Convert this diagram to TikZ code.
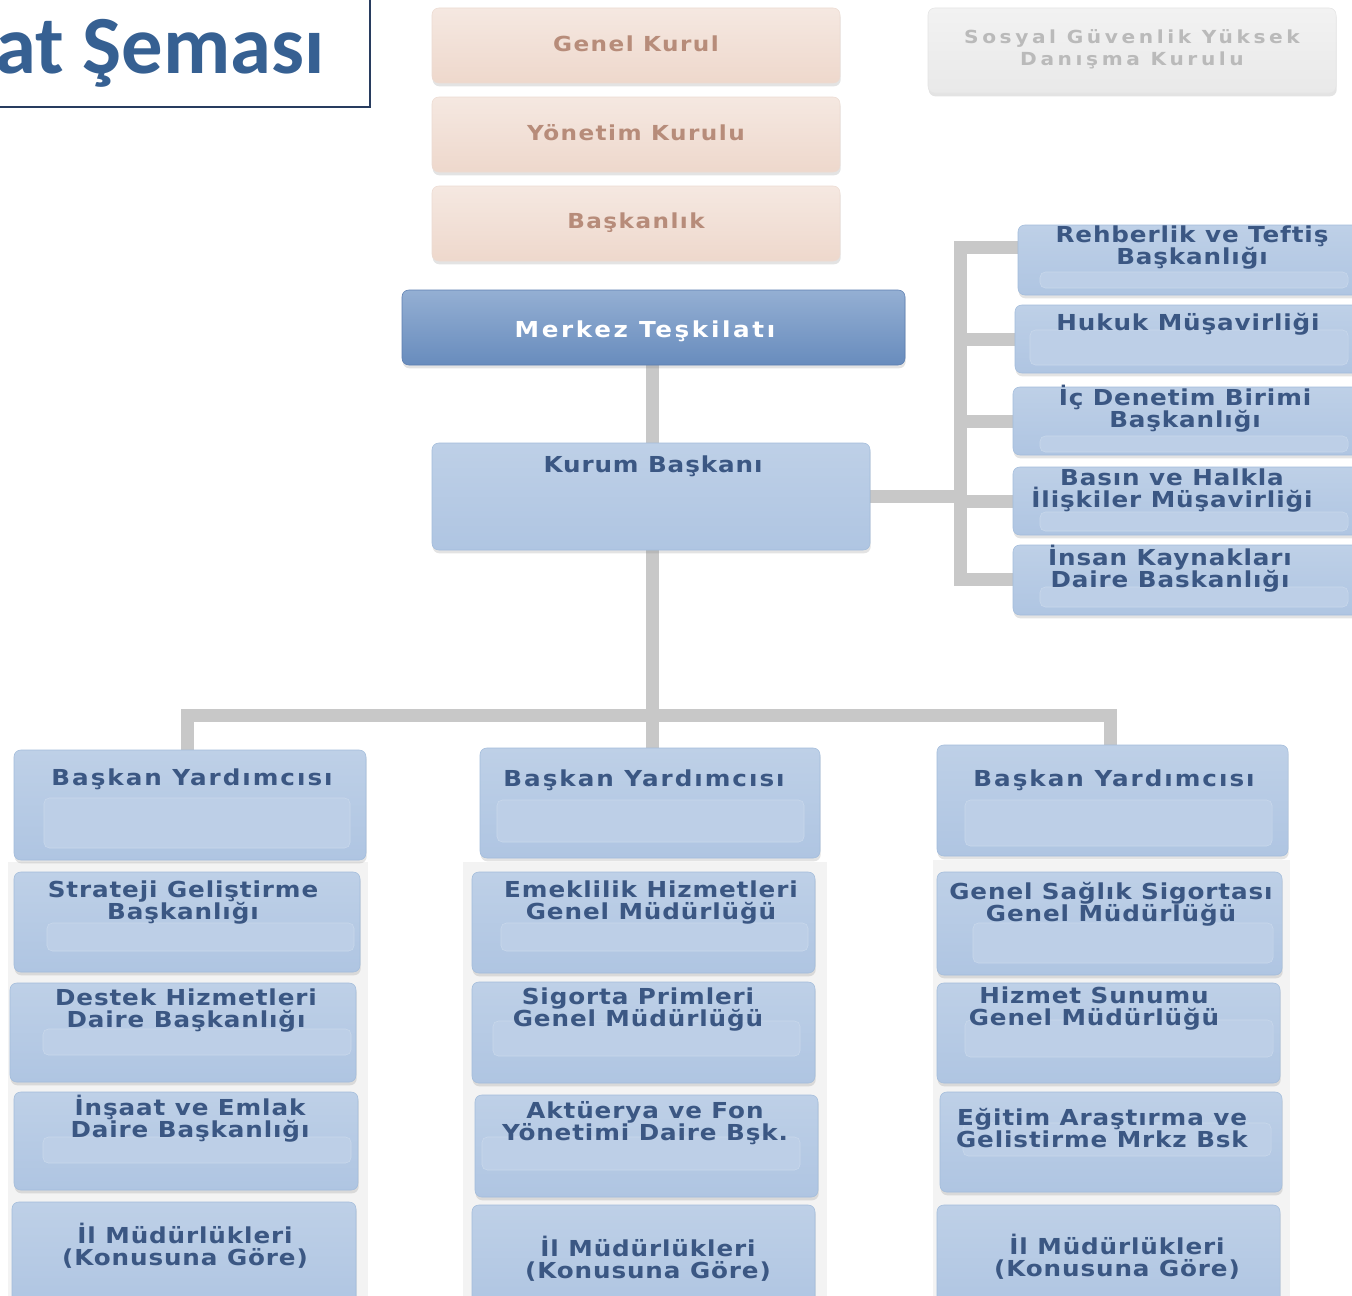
\documentclass[tikz,border=0pt]{standalone}
\usepackage{fontspec}
\newfontfamily\orgfont[FakeStretch=1.12,LetterSpace=4]{DejaVu Sans}
\newfontfamily\titlefont{Carlito}
\usetikzlibrary{fit,shadows,backgrounds}

\begin{document}
\begin{tikzpicture}[x=0.75pt,y=0.75pt,yscale=-1,xscale=1,
  shadowed/.style={drop shadow={opacity=0.22,shadow xshift=0.5pt,shadow yshift=-2.5pt}},
  peachbox/.style={shadowed,inner sep=0pt,rounded corners=5pt,draw={rgb,255:red,236;green,219;blue,210},top color={rgb,255:red,245;green,232;blue,225},bottom color={rgb,255:red,238;green,216;blue,204}},
  graybox/.style={shadowed,inner sep=0pt,rounded corners=5pt,draw={rgb,255:red,228;green,228;blue,228},top color={rgb,255:red,242;green,242;blue,242},bottom color={rgb,255:red,233;green,233;blue,233}},
  darkbox/.style={shadowed,inner sep=0pt,rounded corners=5pt,draw={rgb,255:red,92;green,126;blue,176},top color={rgb,255:red,148;green,175;blue,211},bottom color={rgb,255:red,104;green,140;blue,189}},
  bluebox/.style={shadowed,inner sep=0pt,rounded corners=5pt,draw={rgb,255:red,162;green,188;blue,219},top color={rgb,255:red,190;green,208;blue,231},bottom color={rgb,255:red,175;green,197;blue,226}},
  panelbox/.style={inner sep=0pt,rounded corners=4pt,draw={rgb,255:red,202;green,217;blue,236},fill={rgb,255:red,189;green,207;blue,231}},
  link/.style={draw={rgb,255:red,200;green,200;blue,200},line width=9.75pt,line cap=rect},
  orgtext/.style={inner sep=0pt,align=center,text={rgb,255:red,59;green,87;blue,131},font=\orgfont\bfseries\fontsize{16.5}{16.5}\selectfont},
  widetext/.style={orgtext,font=\orgfont\bfseries\addfontfeature{LetterSpace=9}\fontsize{16.5}{16.5}\selectfont},
  peachtext/.style={orgtext,text={rgb,255:red,183;green,140;blue,122},font=\orgfont\bfseries\addfontfeature{LetterSpace=7}\fontsize{15.5}{16.5}\selectfont},
  graytext/.style={orgtext,text={rgb,255:red,186;green,186;blue,186},font=\orgfont\bfseries\addfontfeature{LetterSpace=20}\fontsize{13.5}{16.5}\selectfont},
  whitetext/.style={orgtext,text=white,font=\orgfont\bfseries\addfontfeature{LetterSpace=12}\fontsize{16.5}{16.5}\selectfont}]
\useasboundingbox (0,0) rectangle (1352,1295);

%Title
\node (titlebox) [fit={(-10,-10) (370,107)},inner sep=0pt,draw={rgb,255:red,40;green,60;blue,95},line width=1.1pt] {};
\node (title) [anchor=base east,inner sep=0pt,text={rgb,255:red,54;green,96;blue,146},font=\titlefont\bfseries\fontsize{62}{66}\selectfont] at (325,74) {at Şeması};

%Top boxes
\node (genel) [peachbox,fit={(432,8) (840,83)}] {};
\node (yonetim) [peachbox,fit={(432,97) (840,172)}] {};
\node (baskanlik) [peachbox,fit={(432,186) (840,261)}] {};
\node (sgyk) [graybox,fit={(928,8) (1336,93)}] {};
\node (merkez) [darkbox,fit={(402,290) (905,365)}] {};
\node (kurum) [bluebox,fit={(432,443) (870,550)}] {};

%Right side boxes
\node (rb1) [bluebox,fit={(1018,225) (1362,295)}] {};
\node (rb2) [bluebox,fit={(1015,305) (1362,373)}] {};
\node (rb3) [bluebox,fit={(1013,387) (1362,455)}] {};
\node (rb4) [bluebox,fit={(1013,467) (1362,535)}] {};
\node (rb5) [bluebox,fit={(1013,545) (1362,615)}] {};

%Left column
\node (by1) [bluebox,fit={(14,750) (366,860)}] {};
\node (l1) [bluebox,fit={(14,872) (360,972)}] {};
\node (l2) [bluebox,fit={(10,983) (356,1082)}] {};
\node (l3) [bluebox,fit={(14,1092) (358,1190)}] {};
\node (l4) [bluebox,fit={(12,1202) (356,1310)}] {};

%Middle column
\node (by2) [bluebox,fit={(480,748) (820,858)}] {};
\node (m1) [bluebox,fit={(472,872) (815,973)}] {};
\node (m2) [bluebox,fit={(472,982) (815,1083)}] {};
\node (m3) [bluebox,fit={(475,1095) (818,1197)}] {};
\node (m4) [bluebox,fit={(472,1205) (815,1310)}] {};

%Right column
\node (by3) [bluebox,fit={(937,745) (1288,856)}] {};
\node (r1) [bluebox,fit={(937,872) (1282,975)}] {};
\node (r2) [bluebox,fit={(937,983) (1280,1083)}] {};
\node (r3) [bluebox,fit={(940,1092) (1282,1192)}] {};
\node (r4) [bluebox,fit={(937,1205) (1280,1310)}] {};

%Inner panels
\node (rb1p) [panelbox,fit={(1040,272) (1348,288)}] {};
\node (rb2p) [panelbox,fit={(1030,330) (1348,365)}] {};
\node (rb3p) [panelbox,fit={(1040,436) (1348,452)}] {};
\node (rb4p) [panelbox,fit={(1040,512) (1348,531)}] {};
\node (rb5p) [panelbox,fit={(1040,587) (1348,607)}] {};
\node (by1p) [panelbox,fit={(44,798) (350,848)}] {};
\node (l1p) [panelbox,fit={(47,923) (354,951)}] {};
\node (l2p) [panelbox,fit={(43,1029) (351,1055)}] {};
\node (l3p) [panelbox,fit={(43,1137) (351,1163)}] {};
\node (by2p) [panelbox,fit={(497,800) (804,842)}] {};
\node (m1p) [panelbox,fit={(501,923) (808,951)}] {};
\node (m2p) [panelbox,fit={(493,1021) (800,1056)}] {};
\node (m3p) [panelbox,fit={(482,1137) (800,1170)}] {};
\node (by3p) [panelbox,fit={(965,800) (1272,846)}] {};
\node (r1p) [panelbox,fit={(973,923) (1273,963)}] {};
\node (r2p) [panelbox,fit={(965,1020) (1273,1057)}] {};
\node (r3p) [panelbox,fit={(963,1123) (1271,1156)}] {};

% Text Node
\node (t-genel) [peachtext] at (636,44) {Genel Kurul};
\node (t-yonetim) [peachtext] at (636,133) {Yönetim Kurulu};
\node (t-baskanlik) [peachtext] at (636,223) {Başkanlık};
\node (t-sgyk) [graytext] at (1132,49) {Sosyal Güvenlik Yüksek\\Danışma Kurulu};
\node (t-merkez) [whitetext] at (645,331) {Merkez Teşkilatı};
\node (t-kurum) [orgtext] at (653,466) {Kurum Başkanı};
% Text Node
\node (t-rb1) [orgtext] at (1192,248) {Rehberlik ve Teftiş\\Başkanlığı};
\node (t-rb2) [orgtext] at (1188,324) {Hukuk Müşavirliği};
\node (t-rb3) [orgtext] at (1185,409) {İç Denetim Birimi\\Başkanlığı};
\node (t-rb4) [orgtext] at (1172,491) {Basın ve Halkla\\İlişkiler Müşavirliği};
\node (t-rb5) [orgtext] at (1170,569) {İnsan Kaynakları\\Daire Baskanlığı};
% Text Node
\node (t-by1) [widetext] at (192,779) {Başkan Yardımcısı};
\node (t-l1) [orgtext] at (183,903) {Strateji Geliştirme\\Başkanlığı};
\node (t-l2) [orgtext] at (186,1011) {Destek Hizmetleri\\Daire Başkanlığı};
\node (t-l3) [orgtext] at (190,1119) {İnşaat ve Emlak\\Daire Başkanlığı};
\node (t-l4) [orgtext] at (185,1246) {İl Müdürlükleri\\(Konusuna Göre)};
% Text Node
\node (t-by2) [widetext] at (644,780) {Başkan Yardımcısı};
\node (t-m1) [orgtext] at (651,903) {Emeklilik Hizmetleri\\Genel Müdürlüğü};
\node (t-m2) [orgtext] at (638,1010) {Sigorta Primleri\\Genel Müdürlüğü};
\node (t-m3) [orgtext] at (645,1123) {Aktüerya ve Fon\\Yönetimi Daire Bşk.};
\node (t-m4) [orgtext] at (648,1259) {İl Müdürlükleri\\(Konusuna Göre)};
% Text Node
\node (t-by3) [widetext] at (1114,780) {Başkan Yardımcısı};
\node (t-r1) [orgtext] at (1111,904) {Genel Sağlık Sigortası\\Genel Müdürlüğü};
\node (t-r2) [orgtext] at (1094,1009) {Hizmet Sunumu\\Genel Müdürlüğü};
\node (t-r3) [orgtext] at (1102,1128) {Eğitim Araştırma ve\\Gelistirme Mrkz Bsk};
\node (t-r4) [orgtext] at (1117,1257) {İl Müdürlükleri\\(Konusuna Göre)};

\begin{scope}[on background layer]
%Column strips
\fill [color={rgb,255:red,243;green,243;blue,243}] (8,862) rectangle (368,1300);
\fill [color={rgb,255:red,243;green,243;blue,243}] (463,862) rectangle (827,1300);
\fill [color={rgb,255:red,243;green,243;blue,243}] (933,860) rectangle (1290,1300);
%Connectors
\coordinate (bus) at (652,715);
\coordinate (busL) at (187,715);
\coordinate (busR) at (1110,715);
\coordinate (rbusT) at (960,247);
\coordinate (rbusB) at (960,579);
\draw [link] (bus |- merkez.south) -- (bus |- kurum.north);
\draw [link] (bus |- kurum.south) -- (bus);
\draw [link] (busL) -- (busR);
\draw [link] (busL) -- (busL |- by1.north);
\draw [link] (bus) -- (bus |- by2.north);
\draw [link] (busR) -- (busR |- by3.north);
\draw [link] (kurum.east) -- (kurum.east -| rbusT);
\draw [link] (rbusT) -- (rbusB);
\draw [link] (rbusT) -- (rbusT -| rb1.west);
\draw [link] (rbusB) -- (rbusB -| rb5.west);
\foreach \b in {rb2,rb3,rb4}
  \draw [link] (rbusT |- \b.west) -- (\b.west);
\end{scope}

\end{tikzpicture}
\end{document}
